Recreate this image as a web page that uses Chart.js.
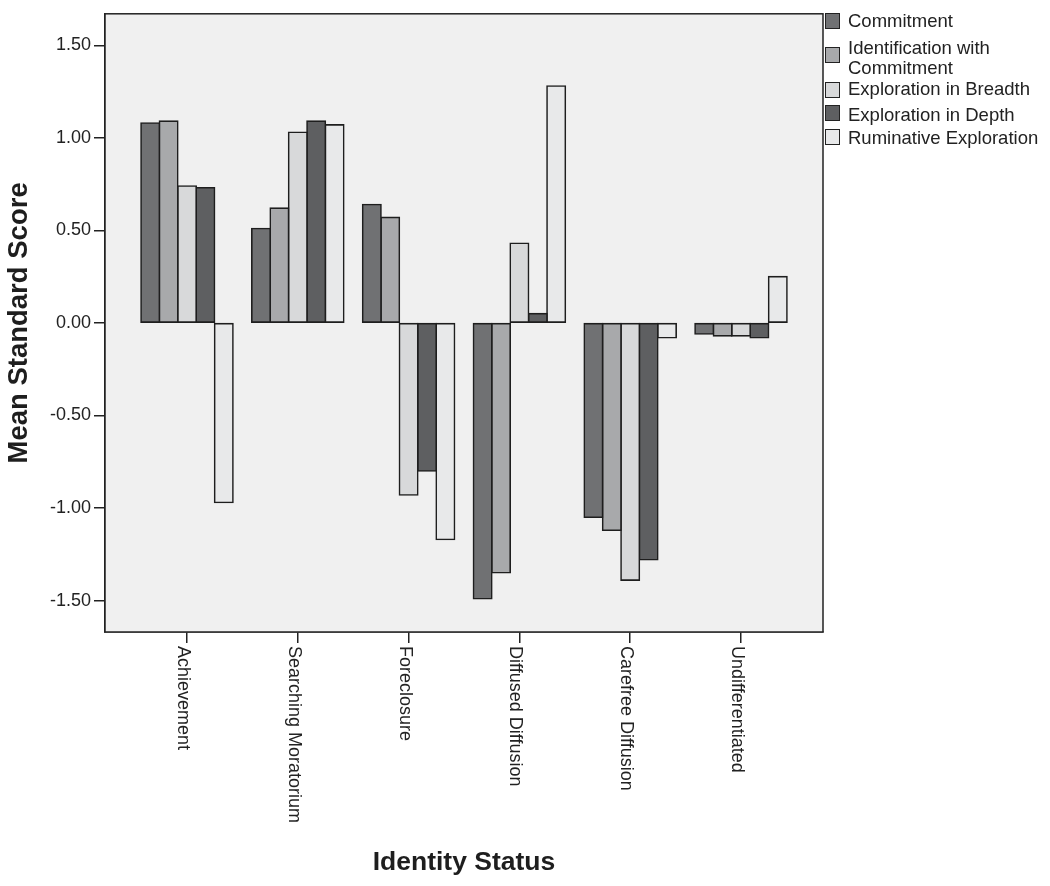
<!DOCTYPE html>
<html>
<head>
<meta charset="utf-8">
<script src="https://cdn.jsdelivr.net/npm/chart.js@4.4.0/dist/chart.umd.min.js"></script>
<style>
  body { margin: 0; background: #fff; }
  #wrap { position: relative; width: 1050px; height: 886px; }
  #legend { position: absolute; left: 825px; top: 0; font: 18.5px 'Liberation Sans', Arial, sans-serif; color: #222; }
  .box { position: absolute; left: 0; width: 13px; height: 14px; border: 1.5px solid #222; }
  .lbl { position: absolute; left: 23px; line-height: 20px; white-space: nowrap; }
</style>
</head>
<body>
<div id="wrap">
  <canvas id="grafico" width="1050" height="886"></canvas>
  <div id="legend"></div>
</div>
<script>
let categorias = ['Achievement', 'Searching Moratorium', 'Foreclosure', 'Diffused Diffusion', 'Carefree Diffusion', 'Undifferentiated']

let commitment = [1.08, 0.51, 0.64, -1.49, -1.05, -0.06]
let identification = [1.09, 0.62, 0.57, -1.35, -1.12, -0.07]
let breadth = [0.74, 1.03, -0.93, 0.43, -1.39, -0.07]
let depth = [0.73, 1.09, -0.80, 0.05, -1.28, -0.08]
let ruminative = [-0.97, 1.07, -1.17, 1.28, -0.08, 0.25]

let yTicks = [-1.5, -1.0, -0.5, 0, 0.5, 1.0, 1.5]

let series = [
  { nome: 'Commitment', legenda: ['Commitment'], valores: commitment, cor: '#707173' },
  { nome: 'Identification with Commitment', legenda: ['Identification with', 'Commitment'], valores: identification, cor: '#a8a9ab' },
  { nome: 'Exploration in Breadth', legenda: ['Exploration in Breadth'], valores: breadth, cor: '#d8d9da' },
  { nome: 'Exploration in Depth', legenda: ['Exploration in Depth'], valores: depth, cor: '#5e5f61' },
  { nome: 'Ruminative Exploration', legenda: ['Ruminative Exploration'], valores: ruminative, cor: '#e8e9ea' }
]

const fonte = "'Liberation Sans', Arial, sans-serif"

// fundo cinza e moldura da area do grafico
const moldura = {
  id: 'moldura',
  beforeDatasetsDraw(chart) {
    const { ctx, chartArea: a } = chart
    ctx.save()
    ctx.fillStyle = '#f0f0f0'
    ctx.fillRect(a.left, a.top, a.right - a.left, a.bottom - a.top)
    ctx.restore()
  },
  afterDraw(chart) {
    const { ctx, chartArea: a } = chart
    ctx.save()
    ctx.strokeStyle = '#222'
    ctx.lineWidth = 1.5
    ctx.strokeRect(a.left, a.top, a.right - a.left, a.bottom - a.top)
    // rotulos do eixo x, girados no sentido horario
    const x = chart.scales.x
    ctx.fillStyle = '#222'
    ctx.font = '18px ' + fonte
    ctx.textAlign = 'left'
    ctx.textBaseline = 'alphabetic'
    categorias.forEach((c, i) => {
      ctx.save()
      ctx.translate(x.getPixelForValue(i), a.bottom + 14)
      ctx.rotate(Math.PI / 2)
      ctx.fillText(c, 0, 9)
      ctx.restore()
    })
    ctx.restore()
  }
}

const grafico = document.getElementById('grafico')

new Chart(grafico, {
  type: 'bar',
  data: {
    datasets: series.map(s => ({
      label: s.nome,
      data: s.valores.map((v, i) => ({ x: i, y: v })),
      backgroundColor: s.cor,
      borderColor: '#1e1e1e',
      borderWidth: 1.6,
      borderSkipped: false,
      inflateAmount: 0.8
    }))
  },
  options: {
    responsive: false,
    animation: false,
    layout: { padding: { top: 9, right: 227, left: 0, bottom: 0 } },
    datasets: { bar: { categoryPercentage: 0.83, barPercentage: 1 } },
    plugins: { legend: { display: false }, tooltip: { enabled: false } },
    scales: {
      x: {
        type: 'linear',
        min: -0.74,
        max: 5.74,
        offset: false,
        afterBuildTicks: s => { s.ticks = categorias.map((c, i) => ({ value: i })) },
        afterFit: s => { s.height = 254 },
        ticks: { display: false },
        grid: { offset: false, drawOnChartArea: false, tickLength: 11, color: '#222', lineWidth: 1.5 },
        border: { display: true, color: '#222', width: 1.5 },
        title: {
          display: true,
          text: 'Identity Status',
          color: '#1e1e1e',
          font: { family: fonte, size: 26.5, weight: 'bold' },
          padding: { top: 0, bottom: 7 }
        }
      },
      y: {
        min: -1.67,
        max: 1.67,
        afterBuildTicks: s => { s.ticks = yTicks.map(v => ({ value: v })) },
        afterFit: s => { s.width = 105 },
        ticks: {
          color: '#222',
          padding: 3,
          font: { family: fonte, size: 18 },
          callback: v => v.toFixed(2)
        },
        grid: { drawOnChartArea: false, tickLength: 11, color: '#222', lineWidth: 1.5 },
        border: { display: true, color: '#222', width: 1.5 },
        title: {
          display: true,
          text: 'Mean Standard Score',
          color: '#1e1e1e',
          font: { family: fonte, size: 27.5, weight: 'bold' },
          padding: { top: 3, bottom: 0 }
        }
      }
    }
  },
  plugins: [moldura]
})

// legenda em html ao lado direito
let legenda = document.getElementById('legend')
let topos = [13, 47, 82, 105, 129]
let textos = [11, 38, 79, 105, 128]
series.forEach((s, i) => {
  let box = document.createElement('div')
  box.className = 'box'
  box.style.top = topos[i] + 'px'
  box.style.background = s.cor
  legenda.appendChild(box)
  let lbl = document.createElement('div')
  lbl.className = 'lbl'
  lbl.style.top = textos[i] + 'px'
  lbl.innerHTML = s.legenda.join('<br>')
  legenda.appendChild(lbl)
})
</script>
</body>
</html>
